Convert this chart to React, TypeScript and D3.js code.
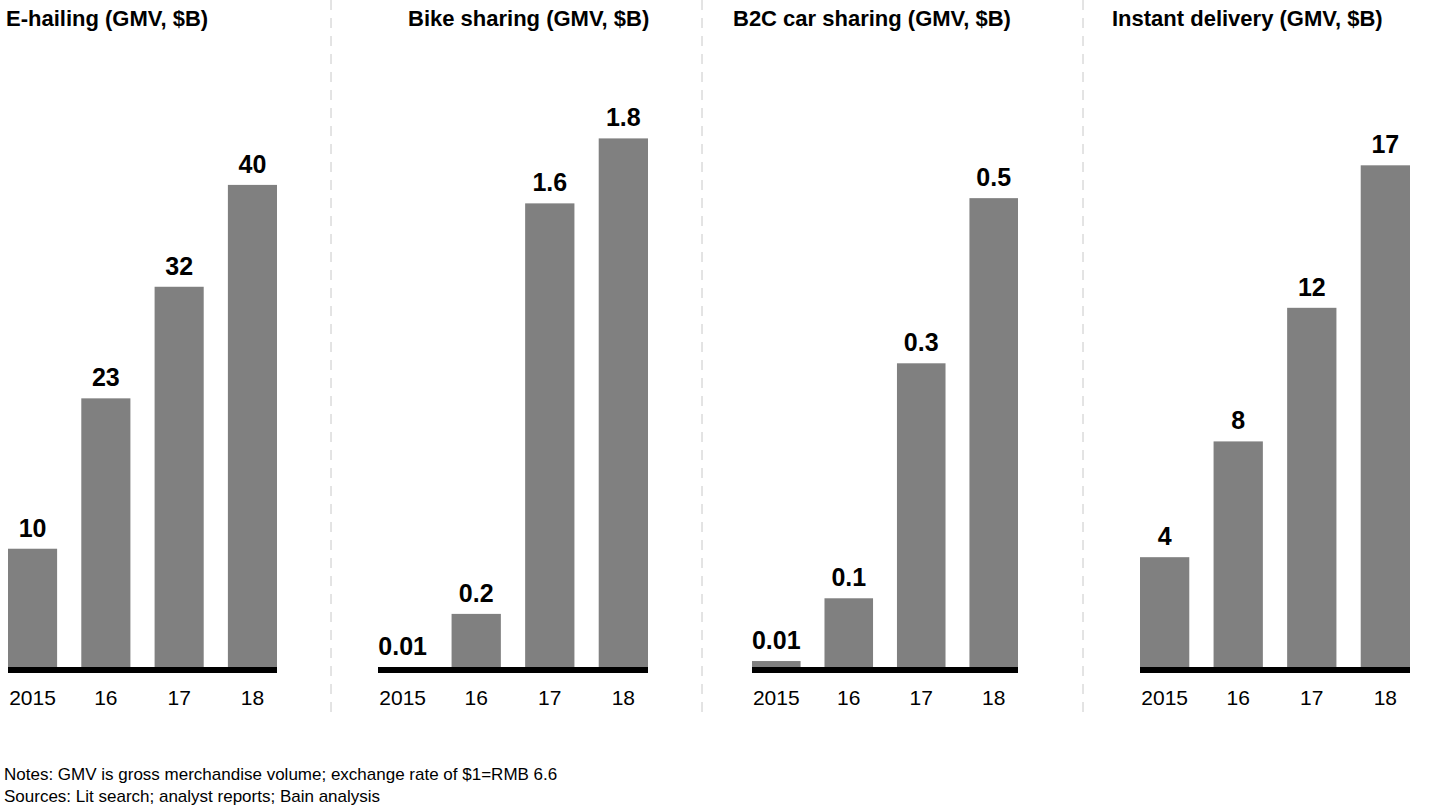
import React from 'react';
import * as d3 from 'd3';

const years = ['2015', '16', '17', '18'];

const titles = ['E-hailing (GMV, $B)', 'Bike sharing (GMV, $B)', 'B2C car sharing (GMV, $B)', 'Instant delivery (GMV, $B)'];
const eHailing = [10, 22.4, 31.6, 40];
const bikeSharing = [0.01, 0.19, 1.58, 1.8];
const carSharing = [0.0095, 0.076, 0.325, 0.5];
const instantDelivery = [3.8, 7.7, 12.2, 17];
const valueLabels = [
  ['10', '23', '32', '40'],
  ['0.01', '0.2', '1.6', '1.8'],
  ['0.01', '0.1', '0.3', '0.5'],
  ['4', '8', '12', '17'],
];
const seriesList = [eHailing, bikeSharing, carSharing, instantDelivery];

// layout per panel (axis extents, title position, domain top)
const panels = [
  { x0: 8, x1: 277, titleX: 6, yMax: 47 },
  { x0: 378, x1: 648, titleX: 408, yMax: 1.93 },
  { x0: 752, x1: 1018, titleX: 733, yMax: 0.604 },
  { x0: 1140, x1: 1410, titleX: 1112, yMax: 19.2 },
];
const separators = [331, 702, 1083];

const W = 1440;
const H = 810;
const baseY = 670;
const topY = 100;
const font = '"Liberation Sans", Arial, sans-serif';

export default function App() {
  return (
    <svg width={W} height={H} style={{ position: 'absolute', left: 0, top: 0, background: '#fff' }} fontFamily={font}>
      {separators.map((sx) => (
        <line key={sx} x1={sx} x2={sx} y1={0} y2={712} stroke="#c8c8c8" strokeWidth={1} strokeDasharray="10,8" />
      ))}
      {panels.map((p, i) => {
        const x = d3.scaleBand<string>().domain(years).range([p.x0, p.x1]).paddingInner(0.33).paddingOuter(0);
        const y = d3.scaleLinear().domain([0, p.yMax]).range([baseY, topY]);
        const data = seriesList[i];
        return (
          <g key={i}>
            <text x={p.titleX} y={26} fontSize={22} fontWeight="bold" fill="#000">{titles[i]}</text>
            {years.map((yr, j) => {
              const bx = x(yr)!;
              const by = y(data[j]);
              return (
                <g key={yr}>
                  <rect x={bx} y={by} width={x.bandwidth()} height={baseY - by} fill="#808080" />
                  <text x={bx + x.bandwidth() / 2} y={by - 12} textAnchor="middle" fontSize={25} fontWeight="bold" fill="#000">
                    {valueLabels[i][j]}
                  </text>
                  <text x={bx + x.bandwidth() / 2} y={705} textAnchor="middle" fontSize={21} fill="#000">{yr}</text>
                </g>
              );
            })}
            <line x1={p.x0} x2={p.x1} y1={baseY} y2={baseY} stroke="#000" strokeWidth={6} />
          </g>
        );
      })}
      <text x={4} y={780} fontSize={17} fill="#000">Notes: GMV is gross merchandise volume; exchange rate of $1=RMB 6.6</text>
      <text x={4} y={802} fontSize={17} fill="#000">Sources: Lit search; analyst reports; Bain analysis</text>
    </svg>
  );
}
